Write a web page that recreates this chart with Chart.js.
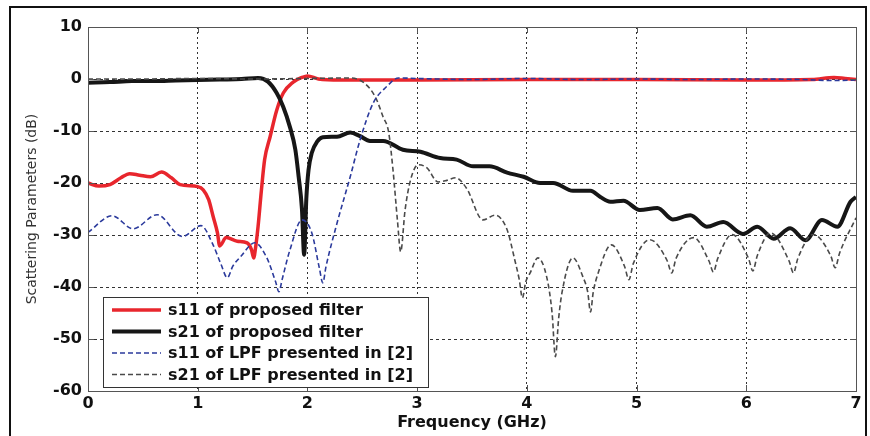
<!DOCTYPE html>
<html>
<head>
<meta charset="utf-8">
<script src="https://cdn.jsdelivr.net/npm/chart.js@4.4.1/dist/chart.umd.min.js"></script>
<style>
  html, body { margin: 0; padding: 0; background: #fff; }
</style>
</head>
<body>
<canvas id="sparamChart" width="870" height="436"></canvas>
<script>
// values (GHz / dB)
const xTicks = [0, 1, 2, 3, 4, 5, 6, 7];
const yTicks = [10, 0, -10, -20, -30, -40, -50, -60];

const seriesLabels = [
	"s11 of proposed filter",
	"s21 of proposed filter",
	"s11 of LPF presented in [2]",
	"s21 of LPF presented in [2]"
];

const s11PropFreq = [0, 0.1, 0.2, 0.3, 0.38, 0.47, 0.57, 0.67, 0.76, 0.84, 1.0, 1.05, 1.1, 1.14, 1.18, 1.2, 1.26, 1.36, 1.45, 1.49, 1.51, 1.53, 1.55, 1.58, 1.61, 1.66, 1.72, 1.78, 1.87, 1.95, 2.0, 2.1, 2.3, 3, 4, 5, 6, 6.6, 6.8, 6.9, 7];
const s11PropDb = [-20, -20.6, -20.3, -19, -18.2, -18.5, -18.8, -17.9, -19, -20.3, -20.7, -21.3, -23.2, -26.4, -29.6, -32.1, -30.5, -31.2, -31.5, -32.8, -34.4, -32, -28.4, -21.5, -15.5, -11.1, -6, -2.7, -0.6, 0.3, 0.6, 0, -0.2, -0.2, -0.1, -0.1, -0.2, -0.1, 0.3, 0.1, -0.1];

const s21PropFreq = [0, 0.2, 0.4, 0.6, 0.8, 1.0, 1.2, 1.4, 1.55, 1.64, 1.72, 1.78, 1.84, 1.89, 1.92, 1.95, 1.97, 1.99, 2.01, 2.04, 2.09, 2.14, 2.27, 2.39, 2.48, 2.57, 2.69, 2.87, 3.03, 3.21, 3.36, 3.51, 3.66, 3.82, 3.97, 4.12, 4.24, 4.42, 4.58, 4.67, 4.76, 4.88, 5.03, 5.19, 5.33, 5.49, 5.64, 5.79, 5.97, 6.1, 6.25, 6.4, 6.54, 6.69, 6.83, 6.95, 7];
const s21PropDb = [-0.7, -0.6, -0.4, -0.4, -0.3, -0.2, -0.1, 0, 0.2, -0.5, -2.7, -5.4, -9.2, -13.6, -18.8, -25, -33.8, -23, -17.5, -14.2, -12, -11.2, -11.1, -10.3, -11, -11.9, -11.9, -13.6, -14, -15.2, -15.5, -16.8, -16.8, -18, -18.8, -20, -20, -21.5, -21.5, -22.7, -23.6, -23.4, -25.2, -24.8, -27, -26.2, -28.4, -27.5, -29.8, -28.4, -30.7, -28.7, -31, -27.1, -28.4, -23.6, -22.7];

const s11RefFreq = [0, 0.22, 0.41, 0.63, 0.86, 1.03, 1.14, 1.21, 1.27, 1.32, 1.39, 1.52, 1.63, 1.71, 1.74, 1.77, 1.84, 1.95, 2.04, 2.11, 2.14, 2.17, 2.27, 2.39, 2.48, 2.6, 2.72, 2.83, 3.0, 3.5, 4, 4.5, 5, 5.5, 6, 6.5, 6.8, 7];
const s11RefDb = [-29.5, -26.3, -28.8, -26.1, -30.3, -28.2, -31.9, -35.5, -38.2, -36, -34.2, -31.5, -34.4, -39, -40.9, -38.5, -32.9, -27.1, -29.6, -36.5, -39.2, -36, -27.7, -18.8, -11.7, -4.6, -1.5, 0.2, 0.1, -0.1, 0.1, -0.1, 0, -0.1, 0, -0.1, -0.3, -0.2];

const s21RefFreq = [0, 0.5, 1.0, 1.5, 2.0, 2.39, 2.52, 2.62, 2.69, 2.74, 2.78, 2.82, 2.85, 2.89, 2.94, 3.01, 3.09, 3.19, 3.27, 3.35, 3.45, 3.6, 3.71, 3.82, 3.89, 3.93, 3.96, 3.99, 4.03, 4.1, 4.18, 4.23, 4.26, 4.29, 4.32, 4.42, 4.51, 4.555, 4.58, 4.605, 4.65, 4.77, 4.89, 4.93, 4.97, 5.12, 5.28, 5.32, 5.36, 5.52, 5.66, 5.7, 5.74, 5.87, 6.02, 6.06, 6.1, 6.22, 6.39, 6.43, 6.47, 6.61, 6.77, 6.81, 6.85, 7];
const s21RefDb = [0, 0, 0.1, 0, 0.1, 0.2, -0.8, -3.5, -7.3, -10.2, -17.5, -27.1, -33.2, -25.2, -19.4, -16.5, -17.1, -19.8, -19.5, -19, -21, -27.1, -26.2, -29, -34.8, -38.5, -42.1, -39, -37.3, -34.4, -38, -45, -53.4, -46, -41.1, -34.4, -38, -41, -44.8, -41, -37.3, -31.9, -36, -38.6, -35.5, -30.9, -35, -37.3, -34.5, -30.5, -35, -37.1, -34.5, -29.9, -34.5, -36.9, -34, -29.6, -35, -37.3, -34.5, -29.9, -34, -36.3, -33.5, -26.7];

const toPoints = (xs, ys) => xs.map((x, i) => ({ x: x, y: ys[i] }));

Chart.defaults.font.family = "'DejaVu Sans', sans-serif";
Chart.defaults.color = "#111";

// plot frame, inner tick marks and the outer figure border
const framePlugin = {
	id: "frame",
	afterDraw(chart) {
		const { ctx, chartArea: a } = chart;
		const xs = chart.scales.x, ys = chart.scales.y;
		ctx.save();
		ctx.strokeStyle = "#555";
		ctx.lineWidth = 1;
		ctx.beginPath();
		xTicks.forEach(t => {
			const px = Math.round(xs.getPixelForValue(t)) + 0.5;
			ctx.moveTo(px, a.bottom); ctx.lineTo(px, a.bottom - 6);
			ctx.moveTo(px, a.top); ctx.lineTo(px, a.top + 6);
		});
		yTicks.forEach(t => {
			const py = Math.round(ys.getPixelForValue(t)) + 0.5;
			ctx.moveTo(a.left, py); ctx.lineTo(a.left + 6, py);
			ctx.moveTo(a.right, py); ctx.lineTo(a.right - 6, py);
		});
		ctx.stroke();
		ctx.strokeRect(Math.round(a.left) + 0.5, Math.round(a.top) + 0.5, Math.round(a.right - a.left), Math.round(a.bottom - a.top));

		ctx.strokeStyle = "#111";
		ctx.lineWidth = 2;
		ctx.beginPath();
		ctx.moveTo(10, 440); ctx.lineTo(10, 7); ctx.lineTo(866, 7); ctx.lineTo(866, 440);
		ctx.stroke();
		ctx.restore();
	}
};

// legend box in the lower left of the plot, like the MATLAB one
const legendPlugin = {
	id: "boxLegend",
	afterDraw(chart) {
		const { ctx } = chart;
		const box = { x: 103, y: 297, w: 325, h: 90 };
		ctx.save();
		ctx.fillStyle = "#fff";
		ctx.fillRect(box.x, box.y, box.w, box.h);
		ctx.strokeStyle = "#333";
		ctx.lineWidth = 1;
		ctx.strokeRect(box.x + 0.5, box.y + 0.5, box.w, box.h);

		ctx.font = "bold 16px 'DejaVu Sans'";
		ctx.textBaseline = "middle";
		ctx.textAlign = "left";
		chart.data.datasets.forEach((ds, i) => {
			const y = box.y + 13 + i * 21.5;
			ctx.strokeStyle = ds.borderColor;
			ctx.lineWidth = ds.borderWidth;
			ctx.setLineDash(ds.borderDash || []);
			ctx.beginPath();
			ctx.moveTo(112, y); ctx.lineTo(161, y);
			ctx.stroke();
			ctx.setLineDash([]);
			ctx.fillStyle = "#111";
			ctx.fillText(ds.label, 168, y + 1);
		});
		ctx.restore();
	}
};

const ctx = document.getElementById("sparamChart").getContext("2d");

new Chart(ctx, {
	type: "line",
	data: {
		datasets: [
			{
				label: seriesLabels[0],
				data: toPoints(s11PropFreq, s11PropDb),
				borderColor: "#e8262d",
				borderWidth: 3.5,
				order: 4
			},
			{
				label: seriesLabels[1],
				data: toPoints(s21PropFreq, s21PropDb),
				borderColor: "#161616",
				borderWidth: 4,
				order: 3
			},
			{
				label: seriesLabels[2],
				data: toPoints(s11RefFreq, s11RefDb),
				borderColor: "#2b3a9c",
				borderWidth: 1.6,
				borderDash: [5, 3],
				order: 1
			},
			{
				label: seriesLabels[3],
				data: toPoints(s21RefFreq, s21RefDb),
				borderColor: "#4a4a4a",
				borderWidth: 1.6,
				borderDash: [5, 3],
				order: 2
			}
		]
	},
	options: {
		responsive: false,
		animation: false,
		devicePixelRatio: 1,
		layout: { padding: { top: 27, right: 14, left: 0, bottom: 0 } },
		elements: {
			point: { radius: 0 },
			line: { tension: 0.35, cubicInterpolationMode: "monotone", fill: false }
		},
		plugins: {
			legend: { display: false },
			tooltip: { enabled: false }
		},
		scales: {
			x: {
				type: "linear",
				min: 0,
				max: 7,
				afterFit: (s) => { s.height = 45; },
				afterBuildTicks: (s) => { s.ticks = xTicks.map(v => ({ value: v })); },
				ticks: { padding: 3, maxRotation: 0, font: { size: 16, weight: "bold" } },
				grid: {
					drawTicks: false,
					color: (c) => (c.tick && (c.tick.value === 0 || c.tick.value === 7)) ? "rgba(0,0,0,0)" : "#333"
				},
				border: { display: false, dash: [2, 3] },
				title: {
					display: true,
					text: "Frequency (GHz)",
					color: "#111",
					font: { size: 16, weight: "bold" },
					padding: { top: 0, bottom: 4 }
				}
			},
			y: {
				min: -60,
				max: 10,
				afterFit: (s) => { s.width = 88; },
				afterBuildTicks: (s) => { s.ticks = yTicks.map(v => ({ value: v })); },
				ticks: { padding: 6, font: { size: 16, weight: "bold" } },
				grid: {
					drawTicks: false,
					color: (c) => (c.tick && (c.tick.value === 10 || c.tick.value === -60)) ? "rgba(0,0,0,0)" : "#333"
				},
				border: { display: false, dash: [3, 3] },
				title: {
					display: true,
					text: "Scattering Parameters (dB)",
					color: "#333",
					font: { size: 14, weight: "normal" },
					padding: { top: 24, bottom: 0 }
				}
			}
		}
	},
	plugins: [framePlugin, legendPlugin]
});
</script>
</body>
</html>
